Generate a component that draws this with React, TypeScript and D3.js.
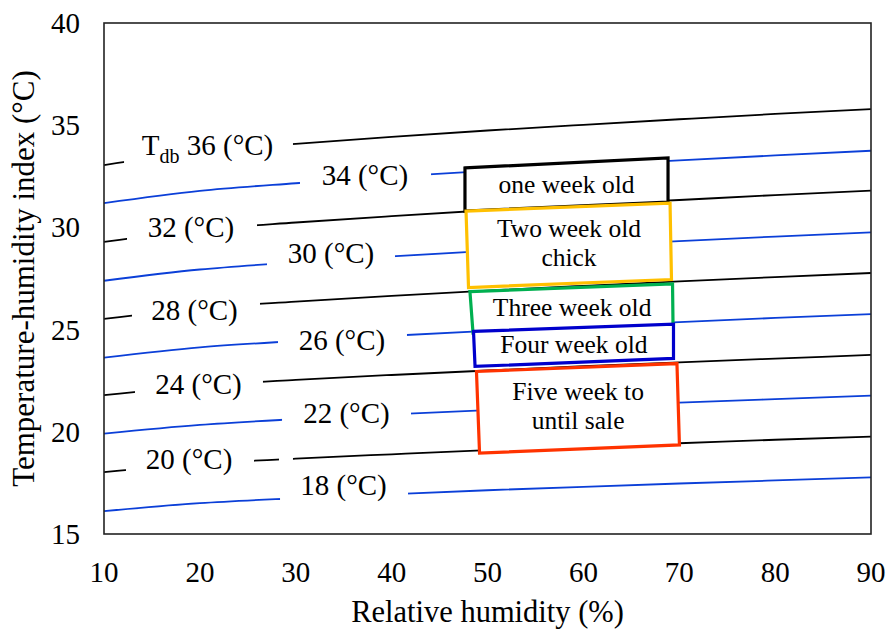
import React from 'react';
import * as d3 from 'd3';

// relative humidity (%) where the THI curves were read
const rh = [10, 20, 30, 40, 50, 60, 70, 80, 90];

// temperature-humidity index for each dry-bulb temperature (°C)
const thi18 = [16.12, 16.51, 16.75, 16.95, 17.14, 17.31, 17.47, 17.62, 17.77];
const thi20 = [18.03, 18.43, 18.69, 18.9, 19.1, 19.28, 19.44, 19.61, 19.76];
const thi22 = [19.91, 20.34, 20.62, 20.85, 21.06, 21.25, 21.43, 21.6, 21.77];
const thi24 = [21.79, 22.25, 22.54, 22.78, 23.0, 23.21, 23.4, 23.58, 23.76];
const thi26 = [23.63, 24.13, 24.44, 24.7, 24.94, 25.16, 25.37, 25.57, 25.76];
const thi28 = [25.52, 26.05, 26.37, 26.65, 26.91, 27.14, 27.36, 27.57, 27.77];
const thi30 = [27.39, 27.94, 28.29, 28.58, 28.85, 29.1, 29.33, 29.55, 29.76];
const thi32 = [29.29, 29.88, 30.24, 30.55, 30.84, 31.1, 31.34, 31.58, 31.8];
const thi34 = [31.19, 31.79, 32.16, 32.48, 32.77, 33.03, 33.28, 33.52, 33.75];
const thi36 = [33.05, 33.69, 34.09, 34.43, 34.74, 35.02, 35.29, 35.55, 35.79];

const xTicks = [10, 20, 30, 40, 50, 60, 70, 80, 90];
const yTicks = [15, 20, 25, 30, 35, 40];

const BLUE = '#0b3fd8';

// label placement along each curve: [RH centre, THI baseline], and RH ranges where the line is hidden
const series = [
  { t: 18, values: thi18, color: BLUE, label: [34.98, 16.91], gaps: [[28.36, 41.71]] },
  { t: 20, values: thi20, color: '#000', label: [18.87, 18.18], gaps: [[12.29, 25.65], [28.25, 29.71]] },
  { t: 22, values: thi22, color: BLUE, label: [35.29, 20.43], gaps: [[28.57, 42.02]] },
  { t: 24, values: thi24, color: '#000', label: [19.86, 21.85], gaps: [[13.23, 26.58]] },
  { t: 26, values: thi26, color: BLUE, label: [34.82, 24.0], gaps: [[28.15, 41.6]] },
  { t: 28, values: thi28, color: '#000', label: [19.44, 25.47], gaps: [[12.92, 26.27]] },
  { t: 30, values: thi30, color: BLUE, label: [33.68, 28.26], gaps: [[27.0, 40.35]] },
  { t: 32, values: thi32, color: '#000', label: [19.07, 29.53], gaps: [[12.4, 25.96]] },
  { t: 34, values: thi34, color: BLUE, label: [37.22, 32.07], gaps: [[30.44, 44.11]] },
  { t: 36, values: thi36, color: '#000', label: [20.8, 33.54], gaps: [[12.09, 29.71]] },
];

// broiler age zones, corners in (RH, THI)
const zones = [
  { lines: ['one week old'], color: '#000000', corners: [[47.65, 32.91], [68.83, 33.4], [68.83, 31.24], [47.65, 30.8]] },
  { lines: ['Two week old', 'chick'], color: '#FFC000', corners: [[47.76, 30.8], [69.04, 31.19], [69.19, 27.45], [48.02, 27.06]] },
  { lines: ['Three week old'], color: '#00B050', corners: [[48.17, 26.86], [69.3, 27.23], [69.35, 25.23], [48.49, 24.83]] },
  { lines: ['Four week old'], color: '#0000CC', corners: [[48.54, 24.91], [69.4, 25.27], [69.4, 23.59], [48.7, 23.2]] },
  { lines: ['Five week to', 'until sale'], color: '#FF3300', corners: [[48.85, 22.95], [69.76, 23.34], [70.02, 19.36], [49.17, 18.96]] },
];

const W = 890;
const H = 630;
const serif = { fontFamily: '"Times New Roman", "Liberation Serif", Tinos, serif' };

const x = d3.scaleLinear().domain([10, 90]).range([104, 871]);
const y = d3.scaleLinear().domain([15, 40]).range([534, 23]);

const line = d3
  .line<number>()
  .x((d, i) => x(rh[i]))
  .y((d) => y(d))
  .curve(d3.curveMonotoneX);

// white label backgrounds that hide the curve under each label
const gapRects = series.flatMap((s) => {
  const at = d3.scaleLinear().domain(rh).range(s.values);
  return s.gaps.map((g, i) => {
    const ya = y(at(g[0]));
    const yb = y(at(g[1]));
    return {
      key: `${s.t}-${i}`,
      x: x(g[0]),
      w: x(g[1]) - x(g[0]),
      top: Math.min(ya, yb) - 10,
      h: Math.abs(ya - yb) + 20,
    };
  });
});

const App: React.FC = () => {
  return (
    <svg
      width={W}
      height={H}
      fontFamily="Times New Roman"
      style={{ position: 'absolute', left: 0, top: 0, display: 'block', ...serif }}
    >
      <rect width={W} height={H} fill="#fff" />

      {series.map((s) => (
        <path key={s.t} d={line(s.values) || ''} fill="none" stroke={s.color} strokeWidth={1.8} />
      ))}

      {gapRects.map((r) => (
        <rect key={r.key} x={r.x} y={r.top} width={r.w} height={r.h} fill="#fff" />
      ))}

      {series.map((s) => (
        <text key={s.t} x={x(s.label[0])} y={y(s.label[1])} textAnchor="middle" fontSize={29} style={serif}>
          {s.t === 36 ? (
            <>
              <tspan>T</tspan>
              <tspan dy={8} fontSize={20}>db</tspan>
              <tspan dy={-8}>{` ${s.t} (°C)`}</tspan>
            </>
          ) : (
            `${s.t} (°C)`
          )}
        </text>
      ))}

      {zones.map((z) => {
        const pts = z.corners.map((c) => [x(c[0]), y(c[1])] as [number, number]);
        const cx = d3.mean(pts, (p) => p[0]) as number;
        const cy = d3.mean(pts, (p) => p[1]) as number;
        const lh = 29;
        const n = z.lines.length;
        return (
          <g key={z.color}>
            <polygon points={pts.map((p) => p.join(',')).join(' ')} fill="#fff" stroke={z.color} strokeWidth={3.2} />
            {z.lines.map((t, i) => (
              <text
                key={t}
                x={cx}
                y={cy + 8 - ((n - 1) * lh) / 2 + i * lh - (n > 1 ? 2 : 0)}
                textAnchor="middle"
                fontSize={25.5}
                style={serif}
              >
                {t}
              </text>
            ))}
          </g>
        );
      })}

      <rect
        x={x(10)}
        y={y(40)}
        width={x(90) - x(10)}
        height={y(15) - y(40)}
        fill="none"
        stroke="#222"
        strokeWidth={1.6}
      />

      {yTicks.map((d) => (
        <text key={d} x={80} y={y(d) + 10} textAnchor="end" fontSize={29} style={serif}>
          {d}
        </text>
      ))}
      {xTicks.map((d) => (
        <text key={d} x={x(d)} y={582} textAnchor="middle" fontSize={29} style={serif}>
          {d}
        </text>
      ))}

      <text x={(x(10) + x(90)) / 2} y={622} textAnchor="middle" fontSize={30.5} style={serif}>
        Relative humidity (%)
      </text>
      <text
        transform={`translate(34,${(y(15) + y(40)) / 2}) rotate(-90)`}
        textAnchor="middle"
        fontSize={31}
        style={serif}
      >
        Temperature-humidity index (°C)
      </text>
    </svg>
  );
};

export default App;
